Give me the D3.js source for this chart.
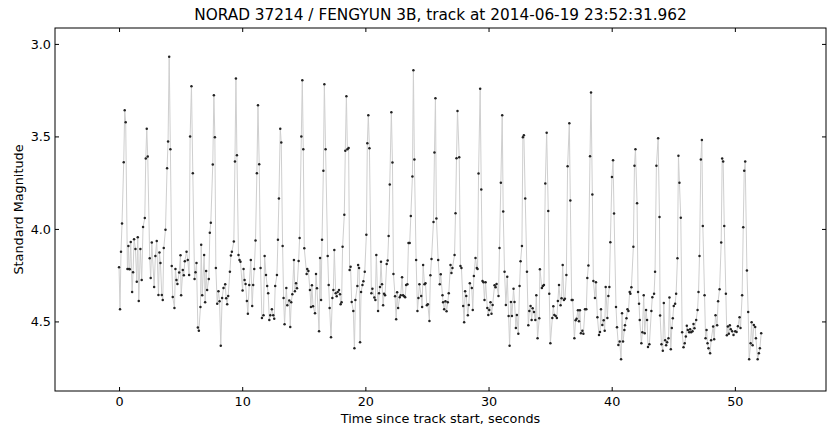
<!DOCTYPE html>
<html>
<head>
<meta charset="utf-8">
<script src="https://cdn.jsdelivr.net/npm/d3@7"></script>
<style>
  body { margin: 0; background: #fff; }
  svg text { font-family: "DejaVu Sans", sans-serif; fill: #000; }
</style>
</head>
<body>
<div id="chart"></div>
<script>
const title = "NORAD 37214 / FENGYUN 3B, track at 2014-06-19 23:52:31.962"
const xLabel = "Time since track start, seconds"
const yLabel = "Standard Magnitude"
const xTicks = [0, 10, 20, 30, 40, 50]
const yTicks = [3.0, 3.5, 4.0, 4.5]

// seconds since track start
const times = [
  0.00,0.08,0.16,0.24,0.38,0.46,0.54,0.68,0.76,0.81,0.87,0.95,1.06,1.14,1.22,1.33,1.44,1.52,1.60,1.73,
  1.84,1.95,2.09,2.17,2.25,2.33,2.49,2.57,2.66,2.85,2.95,3.06,3.20,3.28,3.36,3.47,3.55,3.63,3.77,3.90,
  3.98,4.07,4.17,4.28,4.36,4.50,4.58,4.66,4.74,4.88,4.99,5.04,5.18,5.26,5.34,5.48,5.58,5.69,5.77,5.88,
  5.99,6.13,6.21,6.29,6.40,6.48,6.61,6.67,6.75,6.91,6.99,7.07,7.15,7.29,7.37,7.45,7.61,7.70,7.78,7.86,
  7.97,8.07,8.16,8.26,8.37,8.48,8.62,8.70,8.78,8.86,9.00,9.08,9.16,9.32,9.41,9.49,9.57,9.70,9.78,9.86,
  10.03,10.11,10.19,10.27,10.38,10.46,10.57,10.70,10.81,10.89,10.98,11.08,11.19,11.28,11.38,11.49,11.60,11.73,11.82,11.93,
  12.03,12.11,12.20,12.28,12.41,12.52,12.60,12.68,12.82,12.90,12.98,13.09,13.17,13.28,13.36,13.44,13.58,13.66,13.82,13.90,
  13.98,14.07,14.20,14.28,14.37,14.45,14.58,14.66,14.80,14.88,14.96,15.04,15.23,15.28,15.37,15.50,15.58,15.66,15.75,15.91,
  15.99,16.07,16.24,16.32,16.40,16.48,16.59,16.67,16.77,16.94,17.02,17.10,17.21,17.32,17.40,17.48,17.59,17.67,17.75,17.86,
  17.94,17.99,18.07,18.15,18.29,18.37,18.46,18.54,18.64,18.72,18.80,18.89,19.02,19.11,19.19,19.35,19.41,19.49,19.57,19.65,
  19.76,19.84,19.95,20.08,20.16,20.24,20.33,20.49,20.57,20.73,20.81,20.89,21.03,21.11,21.19,21.27,21.35,21.44,21.52,21.60,
  21.73,21.81,21.89,21.98,22.11,22.20,22.28,22.41,22.50,22.58,22.66,22.79,22.87,22.98,23.06,23.15,23.23,23.31,23.41,23.50,
  23.60,23.69,23.82,23.90,23.98,24.12,24.23,24.31,24.39,24.53,24.61,24.69,24.80,24.88,24.99,25.07,25.20,25.28,25.37,25.53,
  25.61,25.69,25.77,25.91,26.04,26.12,26.26,26.31,26.40,26.50,26.59,26.69,26.77,26.91,26.99,27.07,27.24,27.32,27.40,27.48,
  27.62,27.72,27.80,27.94,28.02,28.10,28.19,28.32,28.40,28.48,28.64,28.72,28.81,28.94,29.05,29.11,29.19,29.32,29.41,29.51,
  29.59,29.67,29.76,29.90,29.98,30.06,30.16,30.24,30.33,30.49,30.57,30.65,30.81,30.89,31.00,31.11,31.19,31.30,31.41,31.52,
  31.63,31.71,31.82,31.90,32.03,32.11,32.22,32.30,32.42,32.52,32.60,32.71,32.79,32.87,32.98,33.12,33.23,33.31,33.41,33.50,
  33.58,33.69,33.80,33.88,33.98,34.12,34.17,34.33,34.41,34.50,34.61,34.72,34.85,34.93,35.02,35.18,35.26,35.34,35.45,35.55,
  35.63,35.72,35.85,35.93,36.02,36.12,36.20,36.32,36.42,36.56,36.64,36.75,36.83,36.97,37.07,37.15,37.26,37.34,37.42,37.50,
  37.62,37.70,37.83,37.94,38.02,38.11,38.24,38.32,38.43,38.51,38.64,38.72,38.84,38.97,39.05,39.13,39.24,39.35,39.43,39.51,
  39.65,39.73,39.81,39.89,40.02,40.11,40.19,40.35,40.43,40.54,40.65,40.76,40.84,40.92,41.03,41.08,41.20,41.28,41.36,41.46,
  41.52,41.60,41.76,41.85,41.93,42.06,42.14,42.22,42.28,42.41,42.49,42.60,42.68,42.79,42.87,42.95,43.06,43.22,43.30,43.44,
  43.52,43.63,43.77,43.88,43.93,44.04,44.15,44.23,44.34,44.42,44.50,44.61,44.69,44.80,44.88,44.96,45.04,45.15,45.23,45.34,
  45.42,45.50,45.61,45.72,45.83,45.93,46.02,46.10,46.18,46.29,46.37,46.45,46.56,46.64,46.72,46.86,46.97,47.05,47.13,47.24,
  47.32,47.40,47.54,47.62,47.70,47.78,47.86,47.99,48.07,48.24,48.32,48.43,48.56,48.64,48.76,48.89,48.97,49.05,49.14,49.27,
  49.35,49.43,49.51,49.59,49.67,49.78,49.89,50.03,50.14,50.25,50.38,50.46,50.59,50.68,50.76,50.84,50.98,51.08,51.16,51.28,
  51.36,51.44,51.54,51.65,51.71,51.85,51.95,52.03,52.14
]

// standard magnitude at each time
const mags = [
  4.207,4.434,4.123,3.971,3.640,3.359,3.423,4.216,4.092,4.216,4.218,4.070,4.341,4.234,4.056,4.108,4.286,4.045,4.389,4.108,
  4.276,3.989,3.941,3.620,3.458,3.609,4.159,4.265,4.074,4.314,4.146,4.065,4.357,4.128,4.184,4.357,4.384,4.103,4.005,3.672,
  3.528,3.070,3.569,4.200,4.368,4.427,4.216,4.276,4.297,4.236,4.142,4.359,4.222,4.250,4.175,4.123,4.168,4.249,3.501,3.229,
  3.699,4.270,4.234,4.184,4.533,4.551,4.422,4.086,4.359,4.141,4.396,4.227,4.330,4.270,4.020,3.966,3.652,3.277,3.505,4.211,
  4.405,4.337,4.391,4.632,4.373,4.319,4.299,4.375,4.407,4.362,4.232,4.144,4.123,4.068,3.636,3.187,3.602,4.141,4.168,4.178,
  4.333,4.216,4.276,4.297,4.389,4.459,4.303,4.168,4.416,4.303,4.216,4.063,3.699,3.332,3.650,4.211,4.481,4.467,4.146,4.249,
  4.308,4.348,4.492,4.467,4.434,4.467,4.486,4.308,4.249,4.059,3.836,3.458,3.533,4.092,4.373,4.515,4.319,4.413,4.387,4.530,
  4.396,4.353,4.168,4.337,4.294,4.321,4.173,4.049,3.501,3.196,3.569,4.105,4.243,4.216,4.227,4.330,4.422,4.305,4.418,4.456,
  4.243,4.321,4.553,4.157,4.384,4.059,3.685,3.218,3.569,4.146,4.303,4.427,4.586,4.373,4.330,4.114,4.348,4.364,4.341,4.330,
  4.353,4.407,4.396,4.097,3.923,3.578,3.283,3.569,3.562,4.222,4.205,4.395,4.443,4.645,4.384,4.308,4.195,4.211,4.613,4.341,
  4.303,4.283,4.232,4.032,3.537,3.386,3.564,4.348,4.324,4.371,4.384,4.141,4.443,4.348,4.314,4.178,4.299,4.413,4.351,4.359,
  4.189,4.171,4.038,3.760,3.369,3.641,4.243,4.364,4.488,4.342,4.427,4.369,4.359,4.261,4.359,4.364,4.369,4.303,4.299,4.076,
  4.076,3.930,3.717,3.142,3.625,4.168,4.443,4.373,4.299,4.362,4.422,4.195,4.299,4.294,4.413,4.407,4.497,4.250,4.162,3.962,
  3.587,3.294,3.944,4.168,4.299,4.245,4.359,4.396,4.434,4.391,4.445,4.396,4.348,4.195,4.238,4.211,4.141,3.915,3.618,3.362,
  3.613,4.200,4.211,4.416,4.505,4.337,4.362,4.467,4.411,4.294,4.319,4.438,4.254,4.157,4.211,4.216,3.701,3.243,3.787,4.281,
  4.288,4.384,4.288,4.427,4.465,4.438,4.396,4.459,4.411,4.305,4.315,4.297,4.362,4.103,3.750,3.386,3.906,4.232,4.411,4.259,
  4.470,4.632,4.395,4.470,4.324,4.395,4.535,4.465,4.567,4.308,4.175,4.092,3.505,3.494,3.836,4.232,4.521,4.443,4.416,4.492,
  4.429,4.449,4.492,4.359,4.591,4.483,4.218,4.319,4.308,4.303,3.755,3.480,3.903,4.351,4.618,4.481,4.418,4.465,4.470,4.481,
  4.389,4.303,4.413,4.375,4.195,4.384,4.378,4.249,3.661,3.429,3.847,4.384,4.384,4.591,4.494,4.486,4.440,4.499,4.440,4.564,
  4.551,4.567,4.434,4.434,4.265,4.198,3.607,3.263,3.814,4.281,4.373,4.288,4.477,4.573,4.557,4.434,4.519,4.494,4.551,4.314,
  4.481,4.362,4.314,4.072,3.719,3.629,3.917,4.422,4.532,4.627,4.609,4.705,4.456,4.609,4.546,4.521,4.483,4.434,4.443,4.341,
  4.351,4.315,4.096,3.658,3.569,3.861,4.341,4.405,4.492,4.618,4.559,4.359,4.564,4.438,4.492,4.638,4.623,4.443,4.369,4.351,
  4.232,3.658,3.510,3.935,4.468,4.623,4.658,4.400,4.602,4.629,4.613,4.591,4.371,4.650,4.535,4.483,4.416,4.405,4.351,4.159,
  3.604,3.750,3.939,4.559,4.640,4.618,4.582,4.524,4.546,4.559,4.542,4.559,4.553,4.514,4.537,4.492,4.438,4.341,4.146,3.625,
  3.519,3.984,4.359,4.591,4.546,4.618,4.645,4.672,4.602,4.528,4.596,4.467,4.521,4.391,4.326,4.074,3.620,3.636,3.984,4.351,
  4.575,4.528,4.567,4.521,4.542,4.553,4.573,4.553,4.557,4.526,4.477,4.535,4.359,3.991,3.685,3.636,4.225,4.449,4.705,4.618,
  4.505,4.629,4.519,4.530,4.591,4.705,4.672,4.645,4.564
]

const data = times.map((t, i) => ({t: t, mag: mags[i]}))

const width = 829, height = 426
const margin = {top: 28, right: 3, bottom: 35, left: 55}
const innerW = width - margin.left - margin.right
const innerH = height - margin.top - margin.bottom

const svg = d3.select("#chart")
    .append("svg")
        .attr("width", width)
        .attr("height", height)

const g = svg.append("g")
    .attr("transform", `translate(${margin.left},${margin.top})`)

const x = d3.scaleLinear()
    .domain([-5.2, 57.4])
    .range([0, innerW])

// magnitudes: brighter (smaller) at the top
const y = d3.scaleLinear()
    .domain([2.914, 4.876])
    .range([0, innerH])

const line = d3.line()
    .x(d => x(d.t))
    .y(d => y(d.mag))

g.append("path")
    .attr("d", line(data))
    .attr("fill", "none")
    .attr("stroke", "#cfcfcf")
    .attr("stroke-width", 1)

g.selectAll(".pt")
    .data(data)
    .join("circle")
        .attr("class", "pt")
        .attr("cx", d => x(d.t))
        .attr("cy", d => y(d.mag))
        .attr("r", 1.25)
        .attr("fill", "#222")

const tickFont = "12.8px"

// axes with inward ticks on all four sides
const axisBottomG = g.append("g")
    .attr("transform", `translate(0,${innerH})`)
    .call(d3.axisBottom(x).tickValues(xTicks).tickSizeInner(-4).tickSizeOuter(0).tickPadding(6).tickFormat(d3.format("d")))
const axisTopG = g.append("g")
    .call(d3.axisTop(x).tickValues(xTicks).tickSizeInner(-4).tickSizeOuter(0).tickFormat(""))
const axisLeftG = g.append("g")
    .call(d3.axisLeft(y).tickValues(yTicks).tickSizeInner(-4).tickSizeOuter(0).tickPadding(4).tickFormat(d3.format(".1f")))
const axisRightG = g.append("g")
    .attr("transform", `translate(${innerW},0)`)
    .call(d3.axisRight(y).tickValues(yTicks).tickSizeInner(-4).tickSizeOuter(0).tickFormat(""))

;[axisBottomG, axisTopG, axisLeftG, axisRightG].forEach(a => {
    a.attr("font-family", null).attr("font-size", null)
    a.select(".domain").remove()
    a.selectAll(".tick line").attr("stroke", "#000")
    a.selectAll("text").style("font-size", tickFont)
})

g.append("rect")
    .attr("x", 0)
    .attr("y", 0)
    .attr("width", innerW)
    .attr("height", innerH)
    .attr("fill", "none")
    .attr("stroke", "#000")
    .attr("stroke-width", 1)

svg.append("text")
    .attr("x", margin.left + innerW / 2)
    .attr("y", 20)
    .attr("text-anchor", "middle")
    .style("font-size", "15.3px")
    .text(title)

svg.append("text")
    .attr("x", margin.left + innerW / 2)
    .attr("y", 423)
    .attr("text-anchor", "middle")
    .style("font-size", tickFont)
    .text(xLabel)

svg.append("text")
    .attr("transform", `translate(23,${margin.top + innerH / 2}) rotate(-90)`)
    .attr("text-anchor", "middle")
    .style("font-size", tickFont)
    .text(yLabel)
</script>
</body>
</html>
